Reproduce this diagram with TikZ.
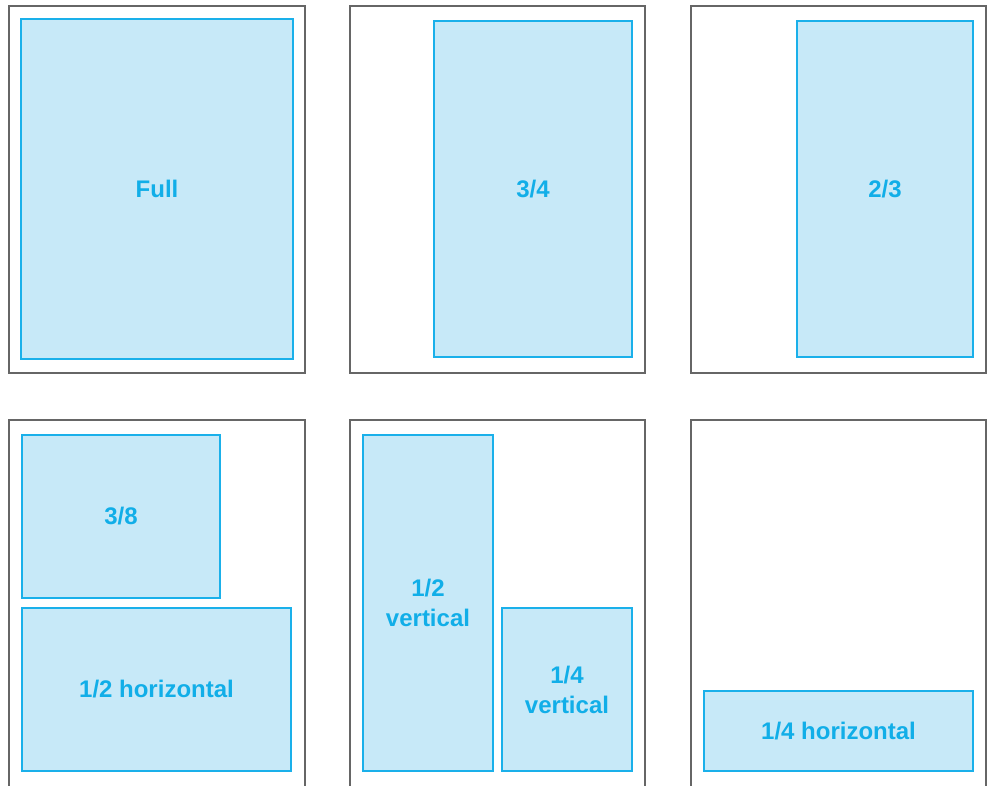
\documentclass[tikz,border=0pt]{standalone}
\usepackage{fontspec}
\setmainfont{Liberation Sans}
\definecolor{boxfill}{HTML}{C7E9F8}
\definecolor{boxline}{HTML}{1AB0EA}
\definecolor{boxtext}{HTML}{11AEE8}
\definecolor{frameline}{HTML}{666666}
\begin{document}
\begin{tikzpicture}[x=1pt,y=-1pt,
  frame/.style={draw=frameline,line width=1.3pt},
  pbox/.style={draw=boxline,fill=boxfill,line width=1.1pt,inner sep=0pt,
    text=boxtext,font=\fontsize{24}{30}\selectfont\bfseries,align=center},
]
\useasboundingbox (0,0) rectangle (990,786);
% top row frames
\node[frame,minimum width=296pt,minimum height=367pt,inner sep=0pt] (f1) at (157,189.5) {};
\node[frame,minimum width=295pt,minimum height=367pt,inner sep=0pt] (f2) at (497.5,189.5) {};
\node[frame,minimum width=295pt,minimum height=367pt,inner sep=0pt] (f3) at (838.5,189.5) {};
% bottom row frames (open at bottom)
\draw[frame] (9,790) -- (9,420) -- (305,420) -- (305,790);
\draw[frame] (350,790) -- (350,420) -- (645,420) -- (645,790);
\draw[frame] (691,790) -- (691,420) -- (986,420) -- (986,790);
% top row boxes
\node[pbox,minimum width=272pt,minimum height=340pt] (full) at (157,189) {Full};
\node[pbox,minimum width=198pt,minimum height=336pt] (tq) at (533,189) {3/4};
\node[pbox,minimum width=176pt,minimum height=336pt] (tt) at (885,189) {2/3};
% bottom row boxes
\node[pbox,minimum width=198pt,minimum height=163pt] (te) at (121,516.5) {3/8};
\node[pbox,minimum width=269pt,minimum height=163pt] (hh) at (156.5,689.5) {1/2 horizontal};
\node[pbox,minimum width=130pt,minimum height=336pt] (hv) at (428,603) {1/2\\vertical};
\node[pbox,minimum width=130pt,minimum height=163pt] (qv) at (567,689.5) {1/4\\vertical};
\node[pbox,minimum width=269pt,minimum height=80pt] (qh) at (838.5,731) {1/4 horizontal};
\end{tikzpicture}
\end{document}
